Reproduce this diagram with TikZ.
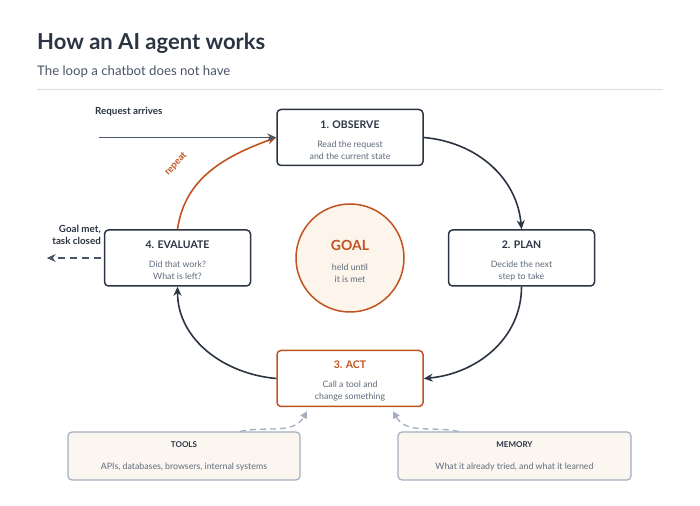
\documentclass[tikz,border=0pt]{standalone}
\usepackage{fontspec}
\setmainfont{Lato}
\usepackage{xcolor}
\usepackage{tikz}
\usetikzlibrary{arrows.meta,positioning,calc}
\definecolor{ink}{HTML}{2B3442}
\definecolor{slate}{HTML}{4A5568}
\definecolor{bodygray}{HTML}{5F6B7A}
\definecolor{rust}{HTML}{C0531F}
\definecolor{cream}{HTML}{FDF4EC}
\definecolor{sand}{HTML}{FBF6F0}
\definecolor{steel}{HTML}{A3AFBF}
\definecolor{rulegray}{HTML}{D5DCE4}
\tikzstyle{stepbox} = [draw=ink, line width=1.5pt, rounded corners=4pt, fill=white, minimum width=146pt, minimum height=56pt, align=center, text=ink, inner sep=0pt]
\tikzstyle{actbox} = [stepbox, draw=rust]
\tikzstyle{infobox} = [draw=steel, line width=1.2pt, rounded corners=4pt, fill=sand, minimum width=232pt, minimum height=48pt, align=center, text=ink, inner sep=0pt]
\tikzstyle{plain} = [inner sep=0pt, text=ink, font=\fontsize{9.8}{12}\selectfont\bfseries]
\tikzstyle{loop} = [line width=1.6pt, draw=ink, -{Stealth[length=9pt,width=8pt]}]
\tikzstyle{redo} = [line width=1.6pt, draw=rust, -{Stealth[length=9pt,width=8pt]}]
\tikzstyle{lead} = [line width=1.4pt, draw=slate, -{Stealth[length=9pt,width=8pt]}]
\tikzstyle{feed} = [line width=1.3pt, draw=steel, dash pattern=on 6pt off 4pt, -{Triangle[length=7pt,width=7pt]}]
\newcommand{\boxtitle}[1]{{\fontsize{10.5}{12}\selectfont\bfseries\rule{0pt}{13pt}#1}}
\newcommand{\boxbody}[1]{{\fontsize{8.8}{12}\selectfont\color{bodygray}#1}}
\newcommand{\infotitle}[1]{{\fontsize{8}{12}\selectfont\bfseries #1}}

\begin{document}
\begin{tikzpicture}[x=1pt,y=1pt]
	\useasboundingbox (0,0) rectangle (700,505);
	% heading
	\node (title) [anchor=base west, inner sep=0pt, text=ink, font=\fontsize{22}{24}\selectfont\bfseries] at (37,455.5) {How an AI agent works};
	\node (subtitle) [anchor=base west, inner sep=0pt, text=slate, font=\fontsize{13.2}{15}\selectfont] at (37,429.5) {The loop a chatbot does not have};
	\coordinate (rule-l) at (37,415);
	\coordinate (rule-r) at (663,415);
	\draw[rulegray, line width=1pt] (rule-l) -- (rule-r);

	% the loop
	\node (goal) [circle, draw=rust, line width=1.5pt, fill=cream, minimum size=108pt, inner sep=0pt, align=center] at (350,247)
		{{\fontsize{14}{14}\selectfont\bfseries\color{rust}\rule{0pt}{17pt}GOAL}\\[8pt]\boxbody{held until}\\\boxbody{it is met}};
	\node (observe) [stepbox, above=37pt of goal] {\boxtitle{1. OBSERVE}\\[7pt]\boxbody{Read the request}\\\boxbody{and the current state}};
	\node (plan) [stepbox, right=43pt of goal] {\boxtitle{2. PLAN}\\[7pt]\boxbody{Decide the next}\\\boxbody{step to take}};
	\node (act) [actbox, below=37pt of goal] {\boxtitle{\color{rust}3. ACT}\\[7pt]\boxbody{Call a tool and}\\\boxbody{change something}};
	\node (evaluate) [stepbox, left=44pt of goal] {\boxtitle{4. EVALUATE}\\[7pt]\boxbody{Did that work?}\\\boxbody{What is left?}};

	\draw[loop] (observe.east) to[out=-5,in=95] (plan.north);
	\draw[loop] (plan.south) to[out=-90,in=5] (act.east);
	\draw[loop] (act.west) to[out=175,in=-90] (evaluate.south);
	\draw[redo] (evaluate.north) to[out=82,in=200] (observe.west);
	\node (again) [rotate=47, inner sep=0pt, text=rust, font=\fontsize{9.5}{10}\selectfont\bfseries] at (176,341) {repeat};

	% in and out
	\node (request) [plain, anchor=west] at (95,393) {Request arrives};
	\coordinate [left=177pt of observe.west] (req-start);
	\draw[lead] (req-start) -- (observe.west);
	\node (done) [plain, anchor=east, align=right] at (101,270) {Goal met,\\task closed};
	\coordinate [left=57pt of evaluate.west] (done-end);
	\draw[lead, dash pattern=on 7pt off 5pt] ([xshift=-3pt]evaluate.west) -- (done-end);

	% helpers
	\node (tools) [infobox] at (184,49) {\infotitle{TOOLS}\\[10pt]\boxbody{APIs, databases, browsers, internal systems}};
	\node (memory) [infobox, minimum width=233pt] at (514.5,49) {\infotitle{MEMORY}\\[10pt]\boxbody{What it already tried, and what it learned}};
	\draw[feed] ([xshift=56pt]tools.north) to[out=12,in=-120] ([xshift=-43pt,yshift=-4pt]act.south);
	\draw[feed] ([xshift=-56pt]memory.north) to[out=168,in=-60] ([xshift=43pt,yshift=-4pt]act.south);
\end{tikzpicture}
\end{document}
